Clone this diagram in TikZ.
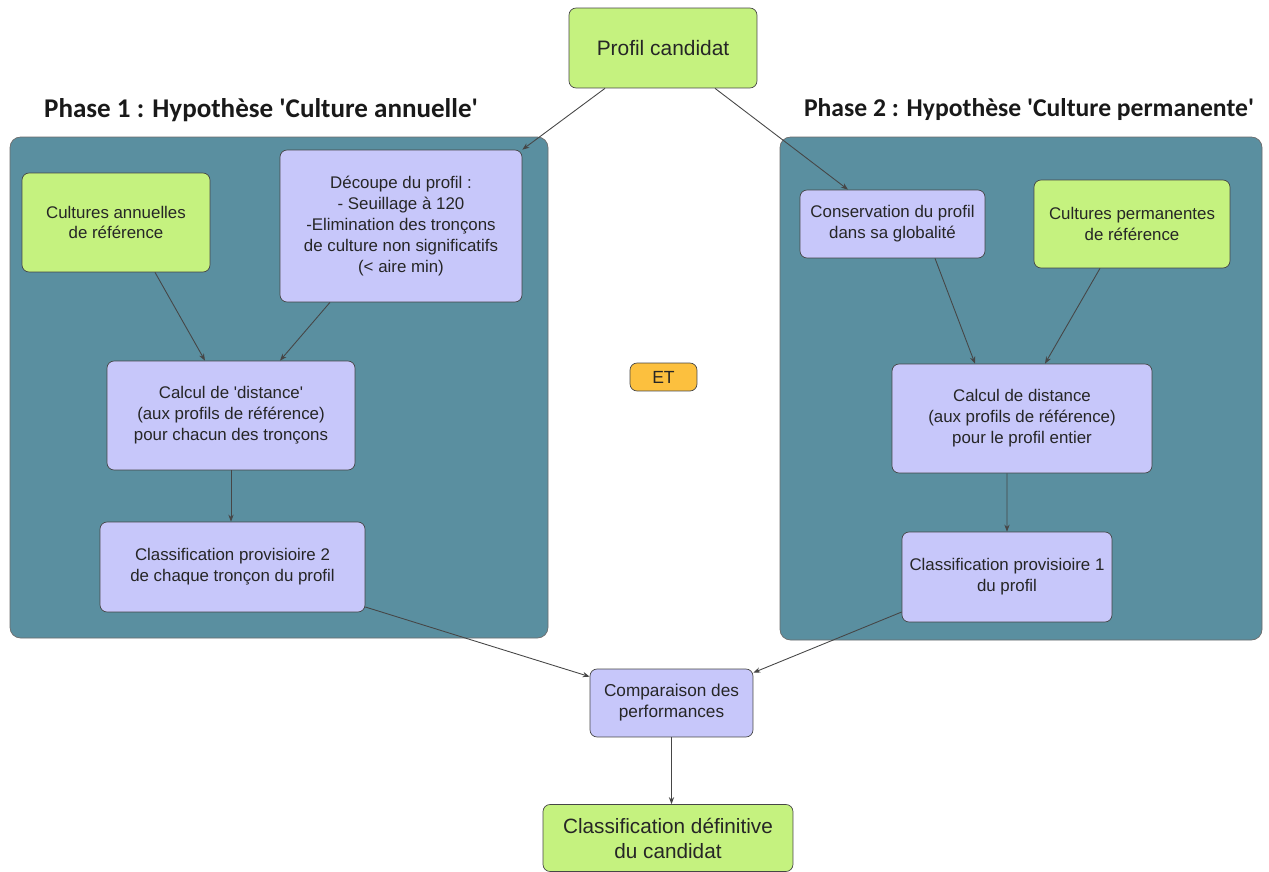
\documentclass[tikz,border=0pt]{standalone}
\usepackage{fontspec}
\setmainfont{Liberation Sans}
\newfontfamily\titlefont{Carlito}
\usepackage{tikz}
\usetikzlibrary{arrows.meta}

\definecolor{vertbox}{RGB}{197,242,127}
\definecolor{violetbox}{RGB}{199,199,250}
\definecolor{phasefond}{RGB}{90,143,160}
\definecolor{orangebox}{RGB}{252,192,62}
\definecolor{trait}{RGB}{70,70,70}

\begin{document}
\begin{tikzpicture}[%
      x=0.02cm, y=-0.02cm,
      >={Stealth[length=4pt,width=3pt]},
      boite/.style={draw=trait, rounded corners=4pt, align=center, inner sep=2pt,
        text=black!85, font=\fontsize{9.6}{11.9}\selectfont},
      boitevert/.style={boite, fill=vertbox},
      boiteviolet/.style={boite, fill=violetbox},
      fleche/.style={->, draw=trait, line width=0.5pt},
      phase/.style={fill=phasefond, draw=trait!80, rounded corners=6pt},
      titre/.style={font=\titlefont\bfseries\fontsize{#1}{17}\selectfont, text=black!90},
      ]
      \useasboundingbox (0,0) rectangle (1269,872);

      \draw [phase] (10,137) rectangle (548,638);
      \draw [phase] (780,137) rectangle (1262,640);
      \node [titre=15.4] (titreA) at (261,110) {Phase 1 : Hypoth\`ese \textquotesingle Culture annuelle\textquotesingle};
      \node [titre=14.6] (titreB) at (1029,110) {Phase 2 : Hypoth\`ese \textquotesingle Culture permanente\textquotesingle};

      \node [boitevert, minimum width=3.76cm, minimum height=1.6cm,
        font=\fontsize{11.9}{14}\selectfont] (cand) at (663,48) {Profil candidat};

      \node [boitevert, minimum width=3.76cm, minimum height=1.98cm] (annu) at (116,222.5)
        {Cultures annuelles\\de r\'ef\'erence};
      \node [boiteviolet, minimum width=4.84cm, minimum height=3.04cm] (decoupe) at (401,226)
        {D\'ecoupe du profil :\\- Seuillage \`a 120\\-Elimination des tron\c{c}ons\\de culture non significatifs\\(< aire min)};
      \node [boiteviolet, minimum width=4.96cm, minimum height=2.18cm] (calcA) at (231,415.5)
        {Calcul de \textquotesingle distance\textquotesingle\\(aux profils de r\'ef\'erence)\\pour chacun des tron\c{c}ons};
      \node [boiteviolet, minimum width=5.3cm, minimum height=1.8cm] (classA) at (232.5,567)
        {Classification provisioire 2\\de chaque tron\c{c}on du profil};

      \node [boiteviolet, minimum width=3.7cm, minimum height=1.36cm] (conserv) at (892.5,224)
        {Conservation du profil\\dans sa globalit\'e};
      \node [boitevert, minimum width=3.92cm, minimum height=1.76cm] (perm) at (1132,224)
        {Cultures permanentes\\de r\'ef\'erence};
      \node [boiteviolet, minimum width=5.2cm, minimum height=2.18cm] (calcB) at (1022,418.5)
        {Calcul de distance\\(aux profils de r\'ef\'erence)\\pour le profil entier};
      \node [boiteviolet, minimum width=4.2cm, minimum height=1.8cm] (classB) at (1007,577)
        {Classification provisioire 1\\du profil};

      \node [boite, fill=orangebox, minimum width=1.34cm, minimum height=0.56cm,
        font=\fontsize{10}{12}\selectfont] (et) at (663.5,377) {ET};

      \node [boiteviolet, minimum width=3.26cm, minimum height=1.36cm,
        font=\fontsize{9.8}{12}\selectfont] (comp) at (671.5,703)
        {Comparaison des\\performances};
      \node [boitevert, minimum width=5.0cm, minimum height=1.34cm,
        font=\fontsize{11.8}{14.2}\selectfont] (final) at (668,838)
        {Classification d\'efinitive\\du candidat};

      \draw [fleche] ([xshift=-1.16cm]cand.south) -- (decoupe.north east);
      \draw [fleche] ([xshift=1.04cm]cand.south) -- ([xshift=-0.89cm]conserv.north);
      \draw [fleche] ([xshift=0.78cm]annu.south) -- ([xshift=-0.52cm]calcA.north);
      \draw [fleche] ([xshift=-1.42cm]decoupe.south) -- ([xshift=0.98cm]calcA.north);
      \draw [fleche] (calcA.south) -- (calcA.south |- classA.north);
      \draw [fleche] ([xshift=0.85cm]conserv.south) -- ([xshift=-0.94cm]calcB.north);
      \draw [fleche] ([xshift=-0.64cm]perm.south) -- ([xshift=0.46cm]calcB.north);
      \draw [fleche] ([xshift=-0.3cm]calcB.south) -- (classB.north);
      \draw [fleche] ([yshift=-0.8cm]classA.east) -- ([yshift=-0.16cm]comp.north west);
      \draw [fleche] ([yshift=-0.7cm]classB.west) -- ([yshift=-0.08cm]comp.north east);
      \draw [fleche] (comp.south) -- (comp.south |- final.north);
      \end{tikzpicture}
\end{document}
